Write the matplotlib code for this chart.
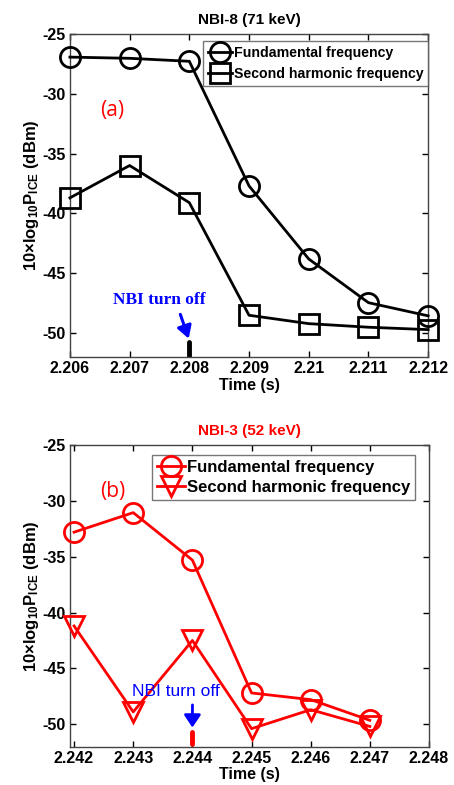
import numpy as np
import matplotlib
matplotlib.use('Agg')
import matplotlib.pyplot as plt

plt.rcParams['font.family'] = ['Liberation Sans', 'DejaVu Sans']
plt.rcParams['font.weight'] = 'bold'
plt.rcParams['axes.labelweight'] = 'bold'
plt.rcParams['axes.titleweight'] = 'bold'
plt.rcParams['axes.unicode_minus'] = False
plt.rcParams['mathtext.fontset'] = 'custom'
plt.rcParams['mathtext.rm'] = 'Liberation Sans:bold'
plt.rcParams['mathtext.bf'] = 'Liberation Sans:bold'
plt.rcParams['mathtext.default'] = 'bf'

# NBI-8 (71 keV) shot, panel (a)
t_a = [2.206, 2.207, 2.208, 2.209, 2.210, 2.211, 2.212]
fund_a = [-26.95, -27.05, -27.3, -37.7, -43.8, -47.45, -48.55]
harm_a = [-38.7, -36.0, -39.1, -48.5, -49.2, -49.5, -49.7]
xticks_a = [2.206, 2.207, 2.208, 2.209, 2.210, 2.211, 2.212]
xticklabels_a = ['2.206', '2.207', '2.208', '2.209', '2.21', '2.211', '2.212']

# NBI-3 (52 keV) shot, panel (b)
t_b = [2.242, 2.243, 2.244, 2.245, 2.246, 2.247]
fund_b = [-32.8, -31.05, -35.3, -47.2, -47.8, -49.65]
harm_b = [-41.2, -48.9, -42.5, -50.4, -48.7, -50.2]
xticks_b = [2.242, 2.243, 2.244, 2.245, 2.246, 2.247, 2.248]
xticklabels_b = ['2.242', '2.243', '2.244', '2.245', '2.246', '2.247', '2.248']

yticks = [-25, -30, -35, -40, -45, -50]
ylab = r'10×log$_{10}$P$_{ICE}$ (dBm)'

fig = plt.figure(figsize=(4.54, 7.85), dpi=100, facecolor='w')
ax1 = fig.add_axes([0.154, 0.545, 0.789, 0.412])
ax2 = fig.add_axes([0.154, 0.049, 0.791, 0.384])


def style(ax, xticks, xlabels, xlim):
    ax.set_xlim(*xlim)
    ax.set_ylim(-52, -25)
    ax.set_xticks(xticks)
    ax.set_xticklabels(xlabels, fontweight='bold')
    ax.set_yticks(yticks)
    ax.set_yticklabels([str(v) for v in yticks], fontweight='bold')
    ax.tick_params(direction='in', top=True, right=True, length=4,
                   width=1, labelsize=11.5, pad=3)
    ax.set_xlabel('Time (s)', fontsize=11.5, fontweight='bold', labelpad=1)
    ax.set_ylabel(ylab, fontsize=12, fontweight='bold', labelpad=1)
    for s in ax.spines.values():
        s.set_color('#444444')
        s.set_linewidth(1)


# panel (a)
ax1.plot(t_a, fund_a, 'k-', lw=2, marker='o', ms=14.5, mfc='none', mew=2,
         label='Fundamental frequency', clip_on=False, zorder=3)
ax1.plot(t_a, harm_a, 'k-', lw=2, marker='s', ms=14, mfc='none', mew=2,
         label='Second harmonic frequency', clip_on=False, zorder=3)
style(ax1, xticks_a, xticklabels_a, (2.206, 2.212))
ax1.set_title('NBI-8 (71 keV)', fontsize=11, fontweight='bold', pad=7)
ax1.text(2.2067, -31.4, '(a)', color='red', fontsize=15, fontweight='normal',
         ha='center', va='center', family='Open Sans')
ax1.annotate('NBI turn off', xy=(2.20799, -50.45), xytext=(2.2075, -47.2),
             ha='center', va='center', color='blue', fontsize=12.5,
             family='Liberation Serif', fontweight='bold',
             arrowprops=dict(arrowstyle='-|>,head_width=0.35,head_length=0.6',
                             color='blue', lw=2.2, shrinkA=3, shrinkB=0,
                             relpos=(0.7, 0.0)))
ax1.plot([2.208, 2.208], [-50.75, -51.9], color='black', lw=3.5,
         solid_capstyle='round')
leg1 = ax1.legend(loc='upper right', bbox_to_anchor=(1.0, 0.977),
                  borderaxespad=0, fontsize=10.2, handlelength=1.7,
                  handletextpad=0.1, labelspacing=0.5, fancybox=False,
                  borderpad=0.35)
leg1.get_frame().set_edgecolor('#555555')
leg1.get_frame().set_linewidth(1)

# panel (b)
ax2.plot(t_b, fund_b, 'r-', lw=2, marker='o', ms=14.5, mfc='none', mew=2,
         label='Fundamental frequency', clip_on=False, zorder=3)
ax2.plot(t_b, harm_b, 'r-', lw=2, marker='v', ms=15, mfc='none', mew=2,
         label='Second harmonic frequency', clip_on=False, zorder=3)
style(ax2, xticks_b, xticklabels_b, (2.24193, 2.248))
ax2.set_title('NBI-3 (52 keV)', fontsize=11, fontweight='bold', color='red',
              pad=7)
ax2.text(2.24266, -29.2, '(b)', color='red', fontsize=15, fontweight='normal',
         ha='center', va='center', family='Open Sans')
ax2.annotate('NBI turn off', xy=(2.244, -50.3), xytext=(2.24372, -47.1),
             ha='center', va='center', color='blue', fontsize=12.5,
             fontweight='normal',
             arrowprops=dict(arrowstyle='-|>,head_width=0.4,head_length=0.6',
                             color='blue', lw=2, shrinkA=2, shrinkB=0,
                             relpos=(0.69, 0.0)))
ax2.plot([2.244, 2.244], [-50.7, -51.8], color='red', lw=3.5,
         solid_capstyle='round')
leg2 = ax2.legend(loc='upper right', bbox_to_anchor=(0.961, 0.967),
                  borderaxespad=0, fontsize=12, handlelength=1.7,
                  handletextpad=0.1, labelspacing=0.3, fancybox=False,
                  borderpad=0.3)
leg2.get_frame().set_edgecolor('#555555')
leg2.get_frame().set_linewidth(1)

fig.savefig('out.png', dpi=100, facecolor='w')
